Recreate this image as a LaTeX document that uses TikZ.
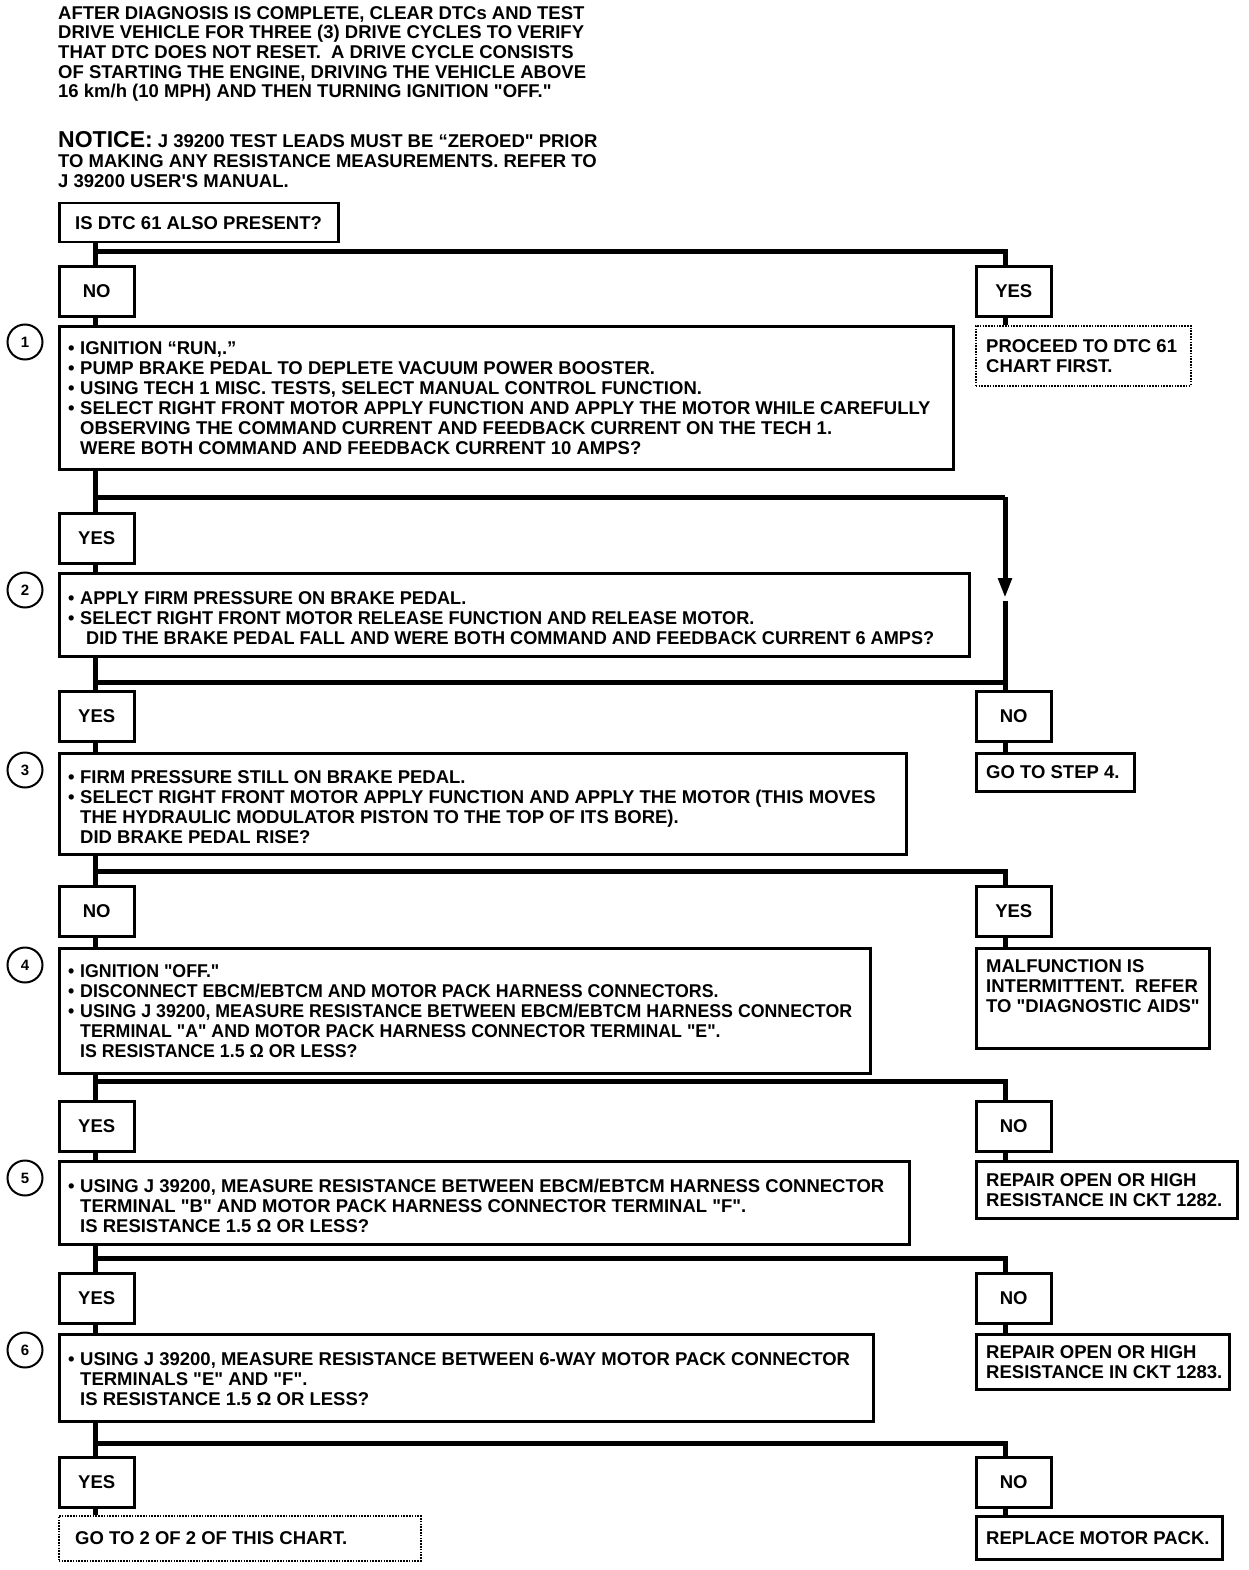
\documentclass[tikz,border=0pt]{standalone}
\usepackage{fontspec}
\setmainfont{Liberation Sans}[Ligatures=TeXOff]
\usetikzlibrary{arrows.meta}
\tikzset{
  txt/.style={font=\fontsize{18.5}{20}\selectfont\bfseries, inner sep=0pt},
  lbl/.style={txt, align=left, anchor=west},
  frame/.style={draw, line width=2.5pt, rectangle, anchor=north west, inner sep=0pt},
  ynbox/.style={frame, minimum width=75pt, minimum height=50pt, font=\fontsize{18.5}{20}\selectfont\bfseries},
  dotframe/.style={frame, line width=1.6pt, dash pattern=on 1.6pt off 1.2pt},
  num/.style={draw, circle, line width=2pt, minimum size=35pt, inner sep=0pt,
    font=\fontsize{15}{15}\selectfont\bfseries},
  conn/.style={line width=5pt},
}
\newcommand{\bul}{\makebox[12pt][l]{\textbullet}}
\newcommand{\ind}{\hspace*{12pt}}
\begin{document}
\begin{tikzpicture}[x=1pt,y=-1pt]
\fill[white] (0,0) rectangle (1248,1570);
\useasboundingbox (0,0) rectangle (1248,1570);

% header
\node[txt, anchor=north west, align=left, font=\fontsize{18.5}{19.7}\selectfont\bfseries] (hdr) at (58,6)
 {AFTER DIAGNOSIS IS COMPLETE, CLEAR DTCs AND TEST\\
  DRIVE VEHICLE FOR THREE (3) DRIVE CYCLES TO VERIFY\\
  THAT DTC DOES NOT RESET.\ \ A DRIVE CYCLE CONSISTS\\
  OF STARTING THE ENGINE, DRIVING THE VEHICLE ABOVE\\
  16 km/h (10 MPH) AND THEN TURNING IGNITION "OFF."};
\node[txt, anchor=north west, align=left] (ntc) at (58,131)
 {{\fontsize{23}{20}\selectfont NOTICE:} J 39200 TEST LEADS MUST BE “ZEROED" PRIOR\\
  TO MAKING ANY RESISTANCE MEASUREMENTS. REFER TO\\
  J 39200 USER'S MANUAL.};

% question
\node[frame, minimum width=279pt, minimum height=39pt] (q0) at (58,202) {};
\node[lbl] (q0t) at ([xshift=17pt]q0.west) {IS DTC 61 ALSO PRESENT?};

% level 0
\node[ynbox] (no0) at (58,265) {NO};
\node[ynbox] (yes0) at (975,265) {YES};
\node[dotframe, minimum width=215pt, minimum height=60pt] (r0) at (975,325) {};
\node[lbl] (r0t) at ([xshift=11pt]r0.west) {PROCEED TO DTC 61\\CHART FIRST.};

% step 1
\node[num] (c1) at (25,342) {1};
\node[frame, minimum width=894pt, minimum height=143pt] (s1) at (58,325) {};
\node[lbl] (s1t) at ([xshift=10pt]s1.west)
 {\bul IGNITION “RUN,.”\\
  \bul PUMP BRAKE PEDAL TO DEPLETE VACUUM POWER BOOSTER.\\
  \bul USING TECH 1 MISC. TESTS, SELECT MANUAL CONTROL FUNCTION.\\
  \bul SELECT RIGHT FRONT MOTOR APPLY FUNCTION AND APPLY THE MOTOR WHILE CAREFULLY\\
  \ind OBSERVING THE COMMAND CURRENT AND FEEDBACK CURRENT ON THE TECH 1.\\
  \ind WERE BOTH COMMAND AND FEEDBACK CURRENT 10 AMPS?};

% step 2
\node[ynbox] (yes1) at (58,512) {YES};
\node[num] (c2) at (25,590) {2};
\node[frame, minimum width=910pt, minimum height=83pt] (s2) at (58,572) {};
\node[lbl, font=\fontsize{18.5}{20}\selectfont\bfseries\addfontfeature{FakeStretch=0.98}] (s2t) at ([xshift=10pt,yshift=-3pt]s2.west)
 {\bul APPLY FIRM PRESSURE ON BRAKE PEDAL.\\
  \bul SELECT RIGHT FRONT MOTOR RELEASE FUNCTION AND RELEASE MOTOR.\\
  \hspace*{18pt}DID THE BRAKE PEDAL FALL AND WERE BOTH COMMAND AND FEEDBACK CURRENT 6 AMPS?};

% step 3
\node[ynbox] (yes2) at (58,690) {YES};
\node[ynbox] (no2) at (975,690) {NO};
\node[frame, minimum width=158pt, minimum height=38pt] (r2) at (975,752) {};
\node[lbl] (r2t) at ([xshift=11pt]r2.west) {GO TO STEP 4.};
\node[num] (c3) at (25,770) {3};
\node[frame, minimum width=847pt, minimum height=101pt] (s3) at (58,752) {};
\node[lbl] (s3t) at ([xshift=10pt,yshift=-3pt]s3.west)
 {\bul FIRM PRESSURE STILL ON BRAKE PEDAL.\\
  \bul SELECT RIGHT FRONT MOTOR APPLY FUNCTION AND APPLY THE MOTOR (THIS MOVES\\
  \ind THE HYDRAULIC MODULATOR PISTON TO THE TOP OF ITS BORE).\\
  \ind DID BRAKE PEDAL RISE?};

% step 4
\node[ynbox] (no3) at (58,885) {NO};
\node[ynbox] (yes3) at (975,885) {YES};
\node[frame, minimum width=233pt, minimum height=100pt] (r3) at (975,947) {};
\node[txt, align=left, anchor=north west] (r3t) at ([xshift=11pt,yshift=-12pt]r3.north west)
 {MALFUNCTION IS\\INTERMITTENT.\ \ REFER\\TO "DIAGNOSTIC AIDS"};
\node[num] (c4) at (25,965) {4};
\node[frame, minimum width=811pt, minimum height=125pt] (s4) at (58,947) {};
\node[lbl, font=\fontsize{18.5}{20}\selectfont\bfseries\addfontfeature{FakeStretch=0.96}] (s4t) at ([xshift=10pt]s4.west)
 {\bul IGNITION "OFF."\\
  \bul DISCONNECT EBCM/EBTCM AND MOTOR PACK HARNESS CONNECTORS.\\
  \bul USING J 39200, MEASURE RESISTANCE BETWEEN EBCM/EBTCM HARNESS CONNECTOR\\
  \ind TERMINAL "A" AND MOTOR PACK HARNESS CONNECTOR TERMINAL "E".\\
  \ind IS RESISTANCE 1.5 Ω OR LESS?};

% step 5
\node[ynbox] (yes4) at (58,1100) {YES};
\node[ynbox] (no4) at (975,1100) {NO};
\node[frame, minimum width=261pt, minimum height=57pt] (r4) at (975,1160) {};
\node[lbl] (r4t) at ([xshift=11pt]r4.west) {REPAIR OPEN OR HIGH\\RESISTANCE IN CKT 1282.};
\node[num] (c5) at (25,1178) {5};
\node[frame, minimum width=850pt, minimum height=83pt] (s5) at (58,1160) {};
\node[lbl] (s5t) at ([xshift=10pt,yshift=-3pt]s5.west)
 {\bul USING J 39200, MEASURE RESISTANCE BETWEEN EBCM/EBTCM HARNESS CONNECTOR\\
  \ind TERMINAL "B" AND MOTOR PACK HARNESS CONNECTOR TERMINAL "F".\\
  \ind IS RESISTANCE 1.5 Ω OR LESS?};

% step 6
\node[ynbox] (yes5) at (58,1272) {YES};
\node[ynbox] (no5) at (975,1272) {NO};
\node[frame, minimum width=253pt, minimum height=55pt] (r5) at (975,1333) {};
\node[lbl] (r5t) at ([xshift=11pt]r5.west) {REPAIR OPEN OR HIGH\\RESISTANCE IN CKT 1283.};
\node[num] (c6) at (25,1350) {6};
\node[frame, minimum width=814pt, minimum height=87pt] (s6) at (58,1333) {};
\node[lbl] (s6t) at ([xshift=10pt,yshift=-1pt]s6.west)
 {\bul USING J 39200, MEASURE RESISTANCE BETWEEN 6-WAY MOTOR PACK CONNECTOR\\
  \ind TERMINALS "E" AND "F".\\
  \ind IS RESISTANCE 1.5 Ω OR LESS?};

% final
\node[ynbox] (yes6) at (58,1456) {YES};
\node[ynbox] (no6) at (975,1456) {NO};
\node[dotframe, minimum width=362pt, minimum height=45pt] (r6y) at (58,1515) {};
\node[lbl] (r6yt) at ([xshift=17pt]r6y.west) {GO TO 2 OF 2 OF THIS CHART.};
\node[frame, minimum width=246pt, minimum height=43pt] (r6n) at (975,1515) {};
\node[lbl] (r6nt) at ([xshift=11pt]r6n.west) {REPLACE MOTOR PACK.};

% junction coordinates
\coordinate (j0) at (95,252);   \coordinate (k0) at (1005,252);
\coordinate (j1) at (95,497);   \coordinate (k1) at (1005,497);
\coordinate (j2) at (95,682);   \coordinate (k2) at (1005,682);
\coordinate (j3) at (95,871);   \coordinate (k3) at (1005,871);
\coordinate (j4) at (95,1081);  \coordinate (k4) at (1005,1081);
\coordinate (j5) at (95,1258);  \coordinate (k5) at (1005,1258);
\coordinate (j6) at (95,1443);  \coordinate (k6) at (1005,1443);
\coordinate (arr) at (1005,598);

% connectors
\draw[conn] (q0.south -| j0) -- (j0) -- (k0) -- (k0 |- yes0.north);
\draw[conn] (j0) -- (j0 |- no0.north);
\draw[conn] (no0.south -| j0) -- (j0 |- s1.north);
\draw[conn] (yes0.south -| k0) -- (k0 |- r0.north);

\draw[conn] (s1.south -| j1) -- (j1) -- (k1);
\draw[conn, -{Triangle[length=20pt,width=13pt]}] (k1) -- (arr);
\draw[conn] ([yshift=-3pt]arr) -- (k2);
\draw[conn] (j1) -- (j1 |- yes1.north);
\draw[conn] (yes1.south -| j1) -- (j1 |- s2.north);

\draw[conn] (s2.south -| j2) -- (j2) -- (k2) -- (k2 |- no2.north);
\draw[conn] (j2) -- (j2 |- yes2.north);
\draw[conn] (yes2.south -| j2) -- (j2 |- s3.north);
\draw[conn] (no2.south -| k2) -- (k2 |- r2.north);

\draw[conn] (s3.south -| j3) -- (j3) -- (k3) -- (k3 |- yes3.north);
\draw[conn] (j3) -- (j3 |- no3.north);
\draw[conn] (no3.south -| j3) -- (j3 |- s4.north);
\draw[conn] (yes3.south -| k3) -- (k3 |- r3.north);

\draw[conn] (s4.south -| j4) -- (j4) -- (k4) -- (k4 |- no4.north);
\draw[conn] (j4) -- (j4 |- yes4.north);
\draw[conn] (yes4.south -| j4) -- (j4 |- s5.north);
\draw[conn] (no4.south -| k4) -- (k4 |- r4.north);

\draw[conn] (s5.south -| j5) -- (j5) -- (k5) -- (k5 |- no5.north);
\draw[conn] (j5) -- (j5 |- yes5.north);
\draw[conn] (yes5.south -| j5) -- (j5 |- s6.north);
\draw[conn] (no5.south -| k5) -- (k5 |- r5.north);

\draw[conn] (s6.south -| j6) -- (j6) -- (k6) -- (k6 |- no6.north);
\draw[conn] (j6) -- (j6 |- yes6.north);
\draw[conn] (yes6.south -| j6) -- (j6 |- r6y.north);
\draw[conn] (no6.south -| k6) -- (k6 |- r6n.north);
\end{tikzpicture}
\end{document}
